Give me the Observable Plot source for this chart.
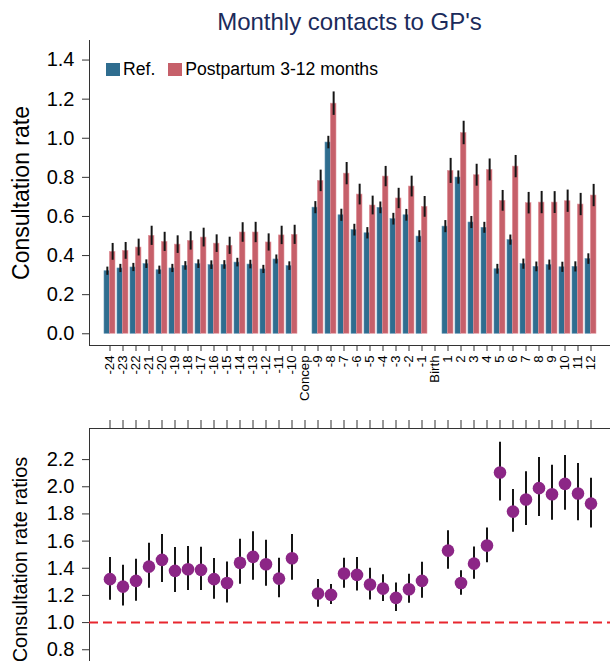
<!DOCTYPE html>
<html><head><meta charset="utf-8">
<script src="https://cdn.jsdelivr.net/npm/d3@7"></script>
<script src="https://cdn.jsdelivr.net/npm/@observablehq/plot@0.6"></script>
<style>
html,body{margin:0;padding:0;background:#fff;overflow:hidden;width:610px;height:661px}
#wrap{position:relative;width:610px;height:661px;font-family:"Liberation Sans",Arial,sans-serif;color:#000}
#title{position:absolute;left:89px;width:521px;top:8px;text-align:center;font-size:24px;line-height:28px;color:#1b2b5b}
#legend{position:absolute;left:106px;top:59px;font-size:17.6px;line-height:20px;display:flex;align-items:center;z-index:2}
.sw{display:inline-block;width:14px;height:13px;margin-right:3px}
#topc{position:absolute;left:0;top:40px}
#bottomc{position:absolute;left:0;top:410px}
</style></head>
<body><div id="wrap">
<div id="title">Monthly contacts to GP's</div>
<div id="legend"><span class="sw" style="background:#2f6d8f"></span><span style="margin-right:13px">Ref.</span><span class="sw" style="background:#c6606a"></span><span>Postpartum 3-12 months</span></div>
<div id="topc"></div>
<div id="bottomc"></div>
</div>
<script>
const cats = ["-24","-23","-22","-21","-20","-19","-18","-17","-16","-15","-14","-13","-12","-11","-10","Concep","-9","-8","-7","-6","-5","-4","-3","-2","-1","Birth","1","2","3","4","5","6","7","8","9","10","11","12"];
const refRate = [0.320,0.334,0.339,0.356,0.325,0.334,0.347,0.356,0.351,0.352,0.364,0.354,0.329,0.380,0.346,null,0.645,0.978,0.606,0.530,0.514,0.644,0.586,0.606,0.497,null,0.548,0.799,0.569,0.542,0.330,0.479,0.356,0.342,0.351,0.340,0.342,0.382];
const refErr = [0.021,0.021,0.021,0.022,0.021,0.021,0.022,0.022,0.022,0.022,0.022,0.022,0.021,0.023,0.022,null,0.031,0.032,0.031,0.030,0.029,0.030,0.030,0.030,0.030,null,0.031,0.034,0.031,0.028,0.025,0.026,0.026,0.025,0.026,0.026,0.026,0.027];
const ppRate = [0.419,0.424,0.441,0.501,0.470,0.456,0.475,0.492,0.461,0.450,0.518,0.518,0.467,0.503,0.506,null,0.782,1.177,0.819,0.712,0.656,0.804,0.692,0.753,0.649,null,0.833,1.027,0.811,0.838,0.680,0.855,0.668,0.671,0.671,0.678,0.661,0.707];
const ppErr = [0.043,0.043,0.043,0.049,0.049,0.045,0.047,0.048,0.045,0.044,0.050,0.052,0.044,0.047,0.049,null,0.055,0.060,0.057,0.053,0.048,0.052,0.052,0.053,0.053,null,0.064,0.060,0.056,0.056,0.053,0.057,0.055,0.057,0.056,0.057,0.057,0.057];
const rr   = [1.320,1.265,1.307,1.412,1.462,1.381,1.393,1.388,1.320,1.292,1.440,1.484,1.430,1.324,1.474,null,1.214,1.204,1.361,1.351,1.280,1.250,1.182,1.246,1.307,null,1.530,1.292,1.434,1.567,2.105,1.817,1.906,1.990,1.945,2.021,1.950,1.876];
const rrLo = [1.165,1.123,1.158,1.253,1.295,1.221,1.236,1.236,1.172,1.145,1.283,1.312,1.268,1.182,1.312,null,1.113,1.133,1.253,1.233,1.167,1.155,1.081,1.143,1.180,null,1.393,1.202,1.320,1.440,1.896,1.666,1.714,1.781,1.754,1.828,1.749,1.697];
const rrHi = [1.479,1.423,1.467,1.585,1.648,1.552,1.560,1.555,1.471,1.447,1.614,1.668,1.607,1.474,1.648,null,1.317,1.280,1.474,1.479,1.400,1.353,1.292,1.356,1.445,null,1.677,1.381,1.557,1.697,2.328,1.979,2.110,2.215,2.159,2.230,2.171,2.063];
const yTicksTop = [0,0.2,0.4,0.6,0.8,1.0,1.2,1.4];
const yTicksBottom = [0.8,1.0,1.2,1.4,1.6,1.8,2.0,2.2];
const refLine = [1];

const BLUE = "#2f6d8f", RED = "#c6606a", PURPLE = "#8c2686";
const FONT = "'Liberation Sans', Arial, sans-serif";
const W = 610, ML = 89, PI = 0.19, PO = 0.995;
const step = (W - ML) / (cats.length - PI + 2 * PO);
const bw = step * (1 - PI);

const refRows = cats.map((c, i) => ({cat: c, v: refRate[i], lo: refRate[i] - refErr[i], hi: refRate[i] + refErr[i]})).filter(d => d.v != null);
const ppRows = cats.map((c, i) => ({cat: c, v: ppRate[i], lo: ppRate[i] - ppErr[i], hi: ppRate[i] + ppErr[i]})).filter(d => d.v != null);
const rrRows = cats.map((c, i) => ({cat: c, v: rr[i], lo: rrLo[i], hi: rrHi[i]})).filter(d => d.v != null);

const xScale = {type: "band", domain: cats, paddingInner: PI, paddingOuter: PO, label: null};

const topChart = Plot.plot({
  width: W, height: 370, marginLeft: ML, marginRight: 0, marginTop: 0, marginBottom: 65,
  style: {fontFamily: FONT, fontSize: "12px", color: "#000", background: "transparent", overflow: "visible"},
  x: xScale,
  y: {domain: [-0.06, 1.5], label: null},
  marks: [
    Plot.barY(refRows, {x: "cat", y: "v", fill: BLUE, stroke: "#5f93b3", strokeWidth: 0.6, insetRight: bw / 2, insetLeft: 0}),
    Plot.barY(ppRows, {x: "cat", y: "v", fill: RED, stroke: "#e39aa1", strokeWidth: 0.6, insetLeft: bw / 2, insetRight: 0}),
    Plot.ruleX(refRows, {x: "cat", y1: "lo", y2: "hi", dx: -bw / 4, stroke: "#151515", strokeWidth: 2}),
    Plot.ruleX(ppRows, {x: "cat", y1: "lo", y2: "hi", dx: bw / 4, stroke: "#151515", strokeWidth: 2}),
    Plot.frame({anchor: "left", stroke: "#333"}),
    Plot.frame({anchor: "bottom", stroke: "#333"}),
    Plot.axisY({ticks: yTicksTop, tickFormat: d3.format(".1f"), fontSize: 20, tickSize: 7, tickPadding: 8, stroke: "#333",
      label: "Consultation rate", labelAnchor: "center", labelOffset: 77, labelArrow: "none"}),
    Plot.axisX({tickRotate: -90, fontSize: 13.2, tickSize: 6, tickPadding: 4, stroke: "#333", label: null})
  ]
});
document.getElementById("topc").appendChild(topChart);

const bottomChart = Plot.plot({
  width: W, height: 280, marginLeft: ML, marginRight: 0, marginTop: 18, marginBottom: 0,
  style: {fontFamily: FONT, fontSize: "12px", color: "#000", background: "transparent", overflow: "visible"},
  x: xScale,
  y: {domain: [0.5, 2.429], label: null},
  marks: [
    Plot.frame({anchor: "top", stroke: "#333"}),
    Plot.frame({anchor: "left", stroke: "#333"}),
    Plot.ruleY(refLine, {stroke: "#e8262e", strokeWidth: 2, strokeDasharray: "9,5"}),
    Plot.ruleX(rrRows, {x: "cat", y1: "lo", y2: "hi", stroke: "#151515", strokeWidth: 2}),
    Plot.dot(rrRows, {x: "cat", y: "v", r: 6.3, fill: PURPLE, stroke: "none"}),
    Plot.axisX({anchor: "top", tickSize: 9, tickFormat: () => "", stroke: "#333", label: null}),
    Plot.axisY({ticks: yTicksBottom, tickFormat: d3.format(".1f"), fontSize: 20, tickSize: 7, tickPadding: 8, stroke: "#333",
      label: "Consultation rate ratios", labelAnchor: "center", labelOffset: 77, labelArrow: "none"})
  ]
});
document.getElementById("bottomc").appendChild(bottomChart);

topChart.querySelectorAll('g[aria-label="y-axis label"]').forEach(g => g.setAttribute("font-size", "23px"));
topChart.querySelectorAll('g[aria-label="y-axis label"] text').forEach(t => t.setAttribute("font-size", "23px"));
bottomChart.querySelectorAll('g[aria-label="y-axis label"]').forEach(g => g.setAttribute("font-size", "20px"));
bottomChart.querySelectorAll('g[aria-label="y-axis label"] text').forEach(t => t.setAttribute("font-size", "20px"));
</script>
</body></html>
